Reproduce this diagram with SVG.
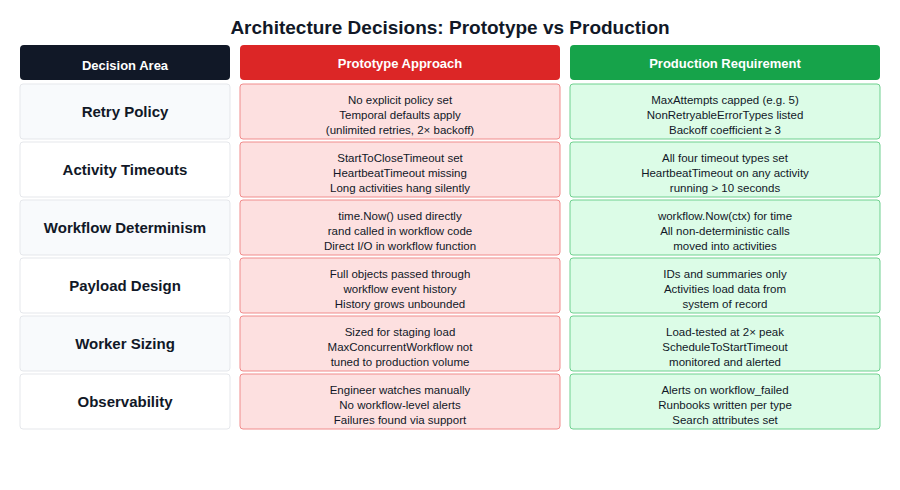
<svg xmlns="http://www.w3.org/2000/svg" width="900" height="490" viewBox="0 0 900 490">
<style>
text{font-family:"Liberation Sans",Arial,sans-serif;text-anchor:middle}
.t{font-size:19px;font-weight:bold;fill:#111827}
.h{font-size:13px;font-weight:bold;fill:#fff}
.a{font-size:15px;font-weight:bold;fill:#111827}
.c{font-size:11.5px;fill:#111827}
.l{stroke:#e5e7eb;stroke-width:1}
.p{fill:#fde0e0;stroke:#f08c8c;stroke-width:1}
.g{fill:#dcfce7;stroke:#6fd08f;stroke-width:1}
</style>
<rect width="900" height="490" fill="#fff"/>
<text class="t" x="450" y="34">Architecture Decisions: Prototype vs Production</text>
<g id="headers">
<rect x="20" y="45" width="210" height="35" rx="4" fill="#111827"/><text class="h" x="125" y="70">Decision Area</text>
<rect x="240" y="45" width="320" height="35" rx="4" fill="#dc2626"/><text class="h" x="400" y="68">Prototype Approach</text>
<rect x="570" y="45" width="310" height="35" rx="4" fill="#16a34a"/><text class="h" x="725" y="68">Production Requirement</text>
</g>
<g id="row1">
<rect class="l" x="20" y="84" width="210" height="55" rx="3" fill="#f8fafc"/><text class="a" x="125" y="117">Retry Policy</text>
<rect class="p" x="240" y="84" width="320" height="55" rx="3"/>
<text class="c" x="400" y="104">No explicit policy set</text><text class="c" x="400" y="119">Temporal defaults apply</text><text class="c" x="400" y="134">(unlimited retries, 2× backoff)</text>
<rect class="g" x="570" y="84" width="310" height="55" rx="3"/>
<text class="c" x="725" y="104">MaxAttempts capped (e.g. 5)</text><text class="c" x="725" y="119">NonRetryableErrorTypes listed</text><text class="c" x="725" y="134">Backoff coefficient ≥ 3</text>
</g>
<g id="row2">
<rect class="l" x="20" y="142" width="210" height="55" rx="3" fill="#fff"/><text class="a" x="125" y="175">Activity Timeouts</text>
<rect class="p" x="240" y="142" width="320" height="55" rx="3"/>
<text class="c" x="400" y="162">StartToCloseTimeout set</text><text class="c" x="400" y="177">HeartbeatTimeout missing</text><text class="c" x="400" y="192">Long activities hang silently</text>
<rect class="g" x="570" y="142" width="310" height="55" rx="3"/>
<text class="c" x="725" y="162">All four timeout types set</text><text class="c" x="725" y="177">HeartbeatTimeout on any activity</text><text class="c" x="725" y="192">running &gt; 10 seconds</text>
</g>
<g id="row3">
<rect class="l" x="20" y="200" width="210" height="55" rx="3" fill="#f8fafc"/><text class="a" x="125" y="233">Workflow Determinism</text>
<rect class="p" x="240" y="200" width="320" height="55" rx="3"/>
<text class="c" x="400" y="220">time.Now() used directly</text><text class="c" x="400" y="235">rand called in workflow code</text><text class="c" x="400" y="250">Direct I/O in workflow function</text>
<rect class="g" x="570" y="200" width="310" height="55" rx="3"/>
<text class="c" x="725" y="220">workflow.Now(ctx) for time</text><text class="c" x="725" y="235">All non-deterministic calls</text><text class="c" x="725" y="250">moved into activities</text>
</g>
<g id="row4">
<rect class="l" x="20" y="258" width="210" height="55" rx="3" fill="#fff"/><text class="a" x="125" y="291">Payload Design</text>
<rect class="p" x="240" y="258" width="320" height="55" rx="3"/>
<text class="c" x="400" y="278">Full objects passed through</text><text class="c" x="400" y="293">workflow event history</text><text class="c" x="400" y="308">History grows unbounded</text>
<rect class="g" x="570" y="258" width="310" height="55" rx="3"/>
<text class="c" x="725" y="278">IDs and summaries only</text><text class="c" x="725" y="293">Activities load data from</text><text class="c" x="725" y="308">system of record</text>
</g>
<g id="row5">
<rect class="l" x="20" y="316" width="210" height="55" rx="3" fill="#f8fafc"/><text class="a" x="125" y="349">Worker Sizing</text>
<rect class="p" x="240" y="316" width="320" height="55" rx="3"/>
<text class="c" x="400" y="336">Sized for staging load</text><text class="c" x="400" y="351">MaxConcurrentWorkflow not</text><text class="c" x="400" y="366">tuned to production volume</text>
<rect class="g" x="570" y="316" width="310" height="55" rx="3"/>
<text class="c" x="725" y="336">Load-tested at 2× peak</text><text class="c" x="725" y="351">ScheduleToStartTimeout</text><text class="c" x="725" y="366">monitored and alerted</text>
</g>
<g id="row6">
<rect class="l" x="20" y="374" width="210" height="55" rx="3" fill="#fff"/><text class="a" x="125" y="407">Observability</text>
<rect class="p" x="240" y="374" width="320" height="55" rx="3"/>
<text class="c" x="400" y="394">Engineer watches manually</text><text class="c" x="400" y="409">No workflow-level alerts</text><text class="c" x="400" y="424">Failures found via support</text>
<rect class="g" x="570" y="374" width="310" height="55" rx="3"/>
<text class="c" x="725" y="394">Alerts on workflow_failed</text><text class="c" x="725" y="409">Runbooks written per type</text><text class="c" x="725" y="424">Search attributes set</text>
</g>
<g id="connectors"/>
</svg>
